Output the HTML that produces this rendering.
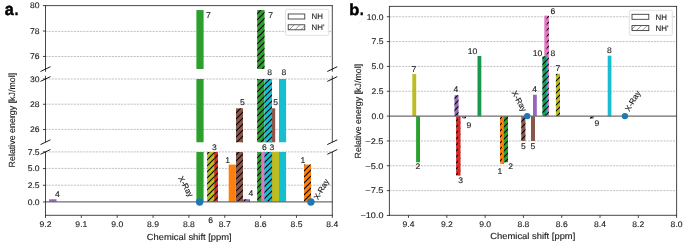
<!DOCTYPE html>
<html><head><meta charset="utf-8"><style>
html,body{margin:0;padding:0;background:#fff;overflow:hidden;}
svg{display:block;will-change:transform;}
text{font-family:"Liberation Sans",sans-serif;text-rendering:geometricPrecision;}
</style></head><body>
<svg width="685" height="242" viewBox="0 0 685 242">
<defs>
<pattern id="hatch" patternUnits="userSpaceOnUse" x="1" y="0" width="6" height="6">
<path d="M-1,1 L1,-1 M0,6 L6,0 M5,7 L7,5" stroke="#000" stroke-width="1.02"/>
</pattern>
<pattern id="hatchL" patternUnits="userSpaceOnUse" width="5.8" height="5.8">
<path d="M-1,1 L1,-1 M0,5.8 L5.8,0 M4.8,6.8 L6.8,4.8" stroke="#555" stroke-width="0.65"/>
</pattern>

<clipPath id="ca_top"><rect x="45.5" y="5.6" width="286.8" height="63.300000000000004"/></clipPath>
<clipPath id="ca_mid"><rect x="45.5" y="79.0" width="286.8" height="63.19999999999999"/></clipPath>
<clipPath id="ca_bot"><rect x="45.5" y="151.9" width="286.8" height="63.400000000000006"/></clipPath>
<clipPath id="cb"><rect x="389.4" y="6.4" width="287.20000000000005" height="208.9"/></clipPath>
</defs>
<rect width="685" height="242" fill="#fff"/>
<line x1="45.50" y1="31.40" x2="332.30" y2="31.40" stroke="#acacac" stroke-width="0.75" stroke-dasharray="2.1,1.05"/>
<line x1="45.50" y1="56.50" x2="332.30" y2="56.50" stroke="#acacac" stroke-width="0.75" stroke-dasharray="2.1,1.05"/>
<line x1="45.50" y1="79.00" x2="332.30" y2="79.00" stroke="#acacac" stroke-width="0.75" stroke-dasharray="2.1,1.05"/>
<line x1="45.50" y1="104.20" x2="332.30" y2="104.20" stroke="#acacac" stroke-width="0.75" stroke-dasharray="2.1,1.05"/>
<line x1="45.50" y1="129.40" x2="332.30" y2="129.40" stroke="#acacac" stroke-width="0.75" stroke-dasharray="2.1,1.05"/>
<line x1="45.50" y1="151.90" x2="332.30" y2="151.90" stroke="#acacac" stroke-width="0.75" stroke-dasharray="2.1,1.05"/>
<line x1="45.50" y1="168.40" x2="332.30" y2="168.40" stroke="#acacac" stroke-width="0.75" stroke-dasharray="2.1,1.05"/>
<line x1="45.50" y1="185.20" x2="332.30" y2="185.20" stroke="#acacac" stroke-width="0.75" stroke-dasharray="2.1,1.05"/>
<rect x="196.40" y="10.05" width="7.20" height="59.85" fill="#2ca02c" clip-path="url(#ca_top)"/>
<rect x="257.20" y="10.05" width="7.30" height="59.85" fill="#2ca02c" clip-path="url(#ca_top)"/>
<rect x="257.20" y="10.05" width="7.30" height="59.85" fill="url(#hatch)" clip-path="url(#ca_top)"/>
<rect x="196.40" y="78.00" width="7.20" height="65.20" fill="#2ca02c" clip-path="url(#ca_mid)"/>
<rect x="236.00" y="108.32" width="7.00" height="34.88" fill="#8c564b" clip-path="url(#ca_mid)"/>
<rect x="236.00" y="108.32" width="7.00" height="34.88" fill="url(#hatch)" clip-path="url(#ca_mid)"/>
<rect x="257.20" y="78.00" width="7.30" height="65.20" fill="#2ca02c" clip-path="url(#ca_mid)"/>
<rect x="257.20" y="78.00" width="7.30" height="65.20" fill="url(#hatch)" clip-path="url(#ca_mid)"/>
<rect x="268.00" y="108.32" width="7.20" height="34.88" fill="#8c564b" clip-path="url(#ca_mid)"/>
<rect x="264.50" y="78.00" width="7.50" height="65.20" fill="#17becf" clip-path="url(#ca_mid)"/>
<rect x="264.50" y="78.00" width="7.50" height="65.20" fill="url(#hatch)" clip-path="url(#ca_mid)"/>
<rect x="279.00" y="78.00" width="7.10" height="65.20" fill="#17becf" clip-path="url(#ca_mid)"/>
<rect x="49.10" y="199.28" width="7.40" height="2.67" fill="#9467bd" clip-path="url(#ca_bot)"/>
<rect x="196.40" y="150.90" width="7.20" height="51.05" fill="#2ca02c" clip-path="url(#ca_bot)"/>
<rect x="210.70" y="150.90" width="7.20" height="51.05" fill="#d62728" clip-path="url(#ca_bot)"/>
<rect x="210.70" y="150.90" width="7.20" height="51.05" fill="url(#hatch)" clip-path="url(#ca_bot)"/>
<rect x="207.10" y="150.90" width="7.20" height="51.05" fill="#bcbd22" clip-path="url(#ca_bot)"/>
<rect x="207.10" y="150.90" width="7.20" height="51.05" fill="url(#hatch)" clip-path="url(#ca_bot)"/>
<rect x="228.70" y="164.58" width="7.20" height="37.37" fill="#ff7f0e" clip-path="url(#ca_bot)"/>
<rect x="236.00" y="150.90" width="7.00" height="51.05" fill="#8c564b" clip-path="url(#ca_bot)"/>
<rect x="236.00" y="150.90" width="7.00" height="51.05" fill="url(#hatch)" clip-path="url(#ca_bot)"/>
<rect x="243.20" y="199.28" width="6.80" height="2.67" fill="#9467bd" clip-path="url(#ca_bot)"/>
<rect x="243.20" y="199.28" width="6.80" height="2.67" fill="url(#hatch)" clip-path="url(#ca_bot)"/>
<rect x="257.20" y="150.90" width="7.30" height="51.05" fill="#2ca02c" clip-path="url(#ca_bot)"/>
<rect x="257.20" y="150.90" width="7.30" height="51.05" fill="url(#hatch)" clip-path="url(#ca_bot)"/>
<rect x="261.20" y="150.90" width="7.20" height="51.05" fill="#e377c2" clip-path="url(#ca_bot)"/>
<rect x="268.00" y="150.90" width="7.20" height="51.05" fill="#8c564b" clip-path="url(#ca_bot)"/>
<rect x="264.50" y="150.90" width="7.50" height="51.05" fill="#17becf" clip-path="url(#ca_bot)"/>
<rect x="264.50" y="150.90" width="7.50" height="51.05" fill="url(#hatch)" clip-path="url(#ca_bot)"/>
<rect x="272.10" y="150.90" width="6.90" height="51.05" fill="#bcbd22" clip-path="url(#ca_bot)"/>
<rect x="279.00" y="150.90" width="7.10" height="51.05" fill="#17becf" clip-path="url(#ca_bot)"/>
<rect x="304.00" y="164.58" width="7.00" height="37.37" fill="#ff7f0e" clip-path="url(#ca_bot)"/>
<rect x="304.00" y="164.58" width="7.00" height="37.37" fill="url(#hatch)" clip-path="url(#ca_bot)"/>
<line x1="45.50" y1="201.95" x2="332.30" y2="201.95" stroke="#6e6e6e" stroke-width="1.25" />
<line x1="45.50" y1="5.20" x2="45.50" y2="71.80" stroke="#262626" stroke-width="0.85" />
<line x1="332.30" y1="5.20" x2="332.30" y2="71.80" stroke="#262626" stroke-width="0.85" />
<line x1="45.50" y1="75.70" x2="45.50" y2="142.20" stroke="#262626" stroke-width="0.85" />
<line x1="332.30" y1="75.70" x2="332.30" y2="142.20" stroke="#262626" stroke-width="0.85" />
<line x1="45.50" y1="151.90" x2="45.50" y2="215.70" stroke="#262626" stroke-width="0.85" />
<line x1="332.30" y1="151.90" x2="332.30" y2="215.70" stroke="#262626" stroke-width="0.85" />
<line x1="45.10" y1="5.60" x2="332.70" y2="5.60" stroke="#262626" stroke-width="0.85" />
<line x1="45.10" y1="215.30" x2="332.70" y2="215.30" stroke="#262626" stroke-width="0.85" />
<line x1="40.50" y1="71.50" x2="50.50" y2="66.70" stroke="#000" stroke-width="0.9" />
<line x1="327.30" y1="71.50" x2="337.30" y2="66.70" stroke="#000" stroke-width="0.9" />
<line x1="40.50" y1="81.40" x2="50.50" y2="76.60" stroke="#000" stroke-width="0.9" />
<line x1="327.30" y1="81.40" x2="337.30" y2="76.60" stroke="#000" stroke-width="0.9" />
<line x1="40.50" y1="144.60" x2="50.50" y2="139.80" stroke="#000" stroke-width="0.9" />
<line x1="327.30" y1="144.60" x2="337.30" y2="139.80" stroke="#000" stroke-width="0.9" />
<line x1="40.50" y1="154.30" x2="50.50" y2="149.50" stroke="#000" stroke-width="0.9" />
<line x1="327.30" y1="154.30" x2="337.30" y2="149.50" stroke="#000" stroke-width="0.9" />
<line x1="42.90" y1="56.44" x2="45.50" y2="56.44" stroke="#262626" stroke-width="0.85" />
<text x="39.60" y="59.19" font-size="8.2" text-anchor="end" fill="#1a1a1a" stroke="#1a1a1a" stroke-width="0.12" textLength="9.54" lengthAdjust="spacingAndGlyphs" >76</text>
<line x1="42.90" y1="31.02" x2="45.50" y2="31.02" stroke="#262626" stroke-width="0.85" />
<text x="39.60" y="33.77" font-size="8.2" text-anchor="end" fill="#1a1a1a" stroke="#1a1a1a" stroke-width="0.12" textLength="9.54" lengthAdjust="spacingAndGlyphs" >78</text>
<line x1="42.90" y1="5.60" x2="45.50" y2="5.60" stroke="#262626" stroke-width="0.85" />
<text x="39.60" y="8.35" font-size="8.2" text-anchor="end" fill="#1a1a1a" stroke="#1a1a1a" stroke-width="0.12" textLength="9.54" lengthAdjust="spacingAndGlyphs" >80</text>
<line x1="42.90" y1="129.56" x2="45.50" y2="129.56" stroke="#262626" stroke-width="0.85" />
<text x="39.60" y="132.31" font-size="8.2" text-anchor="end" fill="#1a1a1a" stroke="#1a1a1a" stroke-width="0.12" textLength="9.54" lengthAdjust="spacingAndGlyphs" >26</text>
<line x1="42.90" y1="104.28" x2="45.50" y2="104.28" stroke="#262626" stroke-width="0.85" />
<text x="39.60" y="107.03" font-size="8.2" text-anchor="end" fill="#1a1a1a" stroke="#1a1a1a" stroke-width="0.12" textLength="9.54" lengthAdjust="spacingAndGlyphs" >28</text>
<line x1="42.90" y1="79.00" x2="45.50" y2="79.00" stroke="#262626" stroke-width="0.85" />
<text x="39.60" y="81.75" font-size="8.2" text-anchor="end" fill="#1a1a1a" stroke="#1a1a1a" stroke-width="0.12" textLength="9.54" lengthAdjust="spacingAndGlyphs" >30</text>
<line x1="42.90" y1="201.95" x2="45.50" y2="201.95" stroke="#262626" stroke-width="0.85" />
<text x="39.60" y="204.70" font-size="8.2" text-anchor="end" fill="#1a1a1a" stroke="#1a1a1a" stroke-width="0.12" textLength="11.93" lengthAdjust="spacingAndGlyphs" >0.0</text>
<line x1="42.90" y1="185.27" x2="45.50" y2="185.27" stroke="#262626" stroke-width="0.85" />
<text x="39.60" y="188.02" font-size="8.2" text-anchor="end" fill="#1a1a1a" stroke="#1a1a1a" stroke-width="0.12" textLength="11.93" lengthAdjust="spacingAndGlyphs" >2.5</text>
<line x1="42.90" y1="168.58" x2="45.50" y2="168.58" stroke="#262626" stroke-width="0.85" />
<text x="39.60" y="171.33" font-size="8.2" text-anchor="end" fill="#1a1a1a" stroke="#1a1a1a" stroke-width="0.12" textLength="11.93" lengthAdjust="spacingAndGlyphs" >5.0</text>
<line x1="42.90" y1="151.90" x2="45.50" y2="151.90" stroke="#262626" stroke-width="0.85" />
<text x="39.60" y="154.65" font-size="8.2" text-anchor="end" fill="#1a1a1a" stroke="#1a1a1a" stroke-width="0.12" textLength="11.93" lengthAdjust="spacingAndGlyphs" >7.5</text>
<line x1="45.50" y1="215.30" x2="45.50" y2="217.90" stroke="#262626" stroke-width="0.85" />
<text x="45.50" y="226.70" font-size="8.2" text-anchor="middle" fill="#1a1a1a" stroke="#1a1a1a" stroke-width="0.12" textLength="11.93" lengthAdjust="spacingAndGlyphs" >9.2</text>
<line x1="81.35" y1="215.30" x2="81.35" y2="217.90" stroke="#262626" stroke-width="0.85" />
<text x="81.35" y="226.70" font-size="8.2" text-anchor="middle" fill="#1a1a1a" stroke="#1a1a1a" stroke-width="0.12" textLength="11.93" lengthAdjust="spacingAndGlyphs" >9.1</text>
<line x1="117.20" y1="215.30" x2="117.20" y2="217.90" stroke="#262626" stroke-width="0.85" />
<text x="117.20" y="226.70" font-size="8.2" text-anchor="middle" fill="#1a1a1a" stroke="#1a1a1a" stroke-width="0.12" textLength="11.93" lengthAdjust="spacingAndGlyphs" >9.0</text>
<line x1="153.05" y1="215.30" x2="153.05" y2="217.90" stroke="#262626" stroke-width="0.85" />
<text x="153.05" y="226.70" font-size="8.2" text-anchor="middle" fill="#1a1a1a" stroke="#1a1a1a" stroke-width="0.12" textLength="11.93" lengthAdjust="spacingAndGlyphs" >8.9</text>
<line x1="188.90" y1="215.30" x2="188.90" y2="217.90" stroke="#262626" stroke-width="0.85" />
<text x="188.90" y="226.70" font-size="8.2" text-anchor="middle" fill="#1a1a1a" stroke="#1a1a1a" stroke-width="0.12" textLength="11.93" lengthAdjust="spacingAndGlyphs" >8.8</text>
<line x1="224.75" y1="215.30" x2="224.75" y2="217.90" stroke="#262626" stroke-width="0.85" />
<text x="224.75" y="226.70" font-size="8.2" text-anchor="middle" fill="#1a1a1a" stroke="#1a1a1a" stroke-width="0.12" textLength="11.93" lengthAdjust="spacingAndGlyphs" >8.7</text>
<line x1="260.60" y1="215.30" x2="260.60" y2="217.90" stroke="#262626" stroke-width="0.85" />
<text x="260.60" y="226.70" font-size="8.2" text-anchor="middle" fill="#1a1a1a" stroke="#1a1a1a" stroke-width="0.12" textLength="11.93" lengthAdjust="spacingAndGlyphs" >8.6</text>
<line x1="296.45" y1="215.30" x2="296.45" y2="217.90" stroke="#262626" stroke-width="0.85" />
<text x="296.45" y="226.70" font-size="8.2" text-anchor="middle" fill="#1a1a1a" stroke="#1a1a1a" stroke-width="0.12" textLength="11.93" lengthAdjust="spacingAndGlyphs" >8.5</text>
<line x1="332.30" y1="215.30" x2="332.30" y2="217.90" stroke="#262626" stroke-width="0.85" />
<text x="332.30" y="226.70" font-size="8.2" text-anchor="middle" fill="#1a1a1a" stroke="#1a1a1a" stroke-width="0.12" textLength="11.93" lengthAdjust="spacingAndGlyphs" >8.4</text>
<text x="189.20" y="239.60" font-size="8.9" text-anchor="middle" fill="#1a1a1a" stroke="#1a1a1a" stroke-width="0.12" textLength="85.00" lengthAdjust="spacingAndGlyphs" >Chemical shift [ppm]</text>
<g transform="translate(14.8,120.1) rotate(-90)">
<text x="0.00" y="0.00" font-size="8.9" text-anchor="middle" fill="#1a1a1a" stroke="#1a1a1a" stroke-width="0.12" textLength="94.60" lengthAdjust="spacingAndGlyphs" >Relative energy [kJ/mol]</text>
</g>
<text x="57.30" y="196.80" font-size="8.2" text-anchor="middle" fill="#1a1a1a" stroke="#1a1a1a" stroke-width="0.12" textLength="4.77" lengthAdjust="spacingAndGlyphs" >4</text>
<text x="208.50" y="17.50" font-size="8.2" text-anchor="middle" fill="#1a1a1a" stroke="#1a1a1a" stroke-width="0.12" textLength="4.77" lengthAdjust="spacingAndGlyphs" >7</text>
<text x="270.60" y="17.60" font-size="8.2" text-anchor="middle" fill="#1a1a1a" stroke="#1a1a1a" stroke-width="0.12" textLength="4.77" lengthAdjust="spacingAndGlyphs" >7</text>
<text x="214.30" y="149.60" font-size="8.2" text-anchor="middle" fill="#1a1a1a" stroke="#1a1a1a" stroke-width="0.12" textLength="4.77" lengthAdjust="spacingAndGlyphs" >3</text>
<text x="227.70" y="162.60" font-size="8.2" text-anchor="middle" fill="#1a1a1a" stroke="#1a1a1a" stroke-width="0.12" textLength="4.77" lengthAdjust="spacingAndGlyphs" >1</text>
<text x="242.50" y="105.10" font-size="8.2" text-anchor="middle" fill="#1a1a1a" stroke="#1a1a1a" stroke-width="0.12" textLength="4.77" lengthAdjust="spacingAndGlyphs" >5</text>
<text x="269.60" y="74.90" font-size="8.2" text-anchor="middle" fill="#1a1a1a" stroke="#1a1a1a" stroke-width="0.12" textLength="4.77" lengthAdjust="spacingAndGlyphs" >8</text>
<text x="283.80" y="74.90" font-size="8.2" text-anchor="middle" fill="#1a1a1a" stroke="#1a1a1a" stroke-width="0.12" textLength="4.77" lengthAdjust="spacingAndGlyphs" >8</text>
<text x="275.60" y="104.90" font-size="8.2" text-anchor="middle" fill="#1a1a1a" stroke="#1a1a1a" stroke-width="0.12" textLength="4.77" lengthAdjust="spacingAndGlyphs" >5</text>
<text x="264.50" y="149.60" font-size="8.2" text-anchor="middle" fill="#1a1a1a" stroke="#1a1a1a" stroke-width="0.12" textLength="4.77" lengthAdjust="spacingAndGlyphs" >6</text>
<text x="271.80" y="149.60" font-size="8.2" text-anchor="middle" fill="#1a1a1a" stroke="#1a1a1a" stroke-width="0.12" textLength="4.77" lengthAdjust="spacingAndGlyphs" >3</text>
<text x="251.00" y="196.30" font-size="8.2" text-anchor="middle" fill="#1a1a1a" stroke="#1a1a1a" stroke-width="0.12" textLength="4.77" lengthAdjust="spacingAndGlyphs" >4</text>
<text x="303.00" y="162.60" font-size="8.2" text-anchor="middle" fill="#1a1a1a" stroke="#1a1a1a" stroke-width="0.12" textLength="4.77" lengthAdjust="spacingAndGlyphs" >1</text>
<text x="210.60" y="223.10" font-size="8.2" text-anchor="middle" fill="#1a1a1a" stroke="#1a1a1a" stroke-width="0.12" textLength="4.77" lengthAdjust="spacingAndGlyphs" >6</text>
<circle cx="199.6" cy="201.95" r="3.7" fill="#1f77b4"/>
<circle cx="310.9" cy="201.95" r="3.7" fill="#1f77b4"/>
<g transform="translate(178.1,178.0) rotate(61)">
<text x="0.00" y="0.00" font-size="7.9" text-anchor="start" fill="#1a1a1a" stroke="#1a1a1a" stroke-width="0.12" textLength="22.41" lengthAdjust="spacingAndGlyphs" >X-Ray</text>
</g>
<g transform="translate(317.9,200.3) rotate(-59)">
<text x="0.00" y="0.00" font-size="7.9" text-anchor="start" fill="#1a1a1a" stroke="#1a1a1a" stroke-width="0.12" textLength="22.41" lengthAdjust="spacingAndGlyphs" >X-Ray</text>
</g>
<rect x="285.5" y="9.3" width="43.30000000000001" height="26.099999999999998" rx="1.6" fill="#fff" fill-opacity="0.85" stroke="#d4d4d4" stroke-width="0.7"/>
<rect x="288.2" y="14.0" width="16.600000000000023" height="5.0" fill="#fff" stroke="#333" stroke-width="0.85"/>
<rect x="288.2" y="24.8" width="16.600000000000023" height="5.0" fill="#fff"/>
<rect x="288.2" y="24.8" width="16.600000000000023" height="5.0" fill="url(#hatchL)"/>
<rect x="288.2" y="24.8" width="16.600000000000023" height="5.0" fill="none" stroke="#333" stroke-width="0.85"/>
<text x="311.60" y="19.40" font-size="8.0" text-anchor="start" fill="#1a1a1a" stroke="#1a1a1a" stroke-width="0.12" textLength="11.40" lengthAdjust="spacingAndGlyphs" >NH</text>
<text x="311.60" y="30.20" font-size="8.0" text-anchor="start" fill="#1a1a1a" stroke="#1a1a1a" stroke-width="0.12" textLength="12.90" lengthAdjust="spacingAndGlyphs" >NH&#39;</text>
<text x="4.70" y="14.80" font-size="17.0" text-anchor="start" fill="#000" stroke="#000" stroke-width="0.5" textLength="9.00" lengthAdjust="spacingAndGlyphs" font-weight="bold" >a</text>
<text x="14.40" y="14.80" font-size="17.0" text-anchor="start" fill="#000" stroke="#000" stroke-width="0.3" textLength="4.00" lengthAdjust="spacingAndGlyphs" font-weight="bold" >.</text>
<line x1="389.40" y1="190.61" x2="676.60" y2="190.61" stroke="#acacac" stroke-width="0.75" stroke-dasharray="2.1,1.05"/>
<line x1="389.40" y1="165.78" x2="676.60" y2="165.78" stroke="#acacac" stroke-width="0.75" stroke-dasharray="2.1,1.05"/>
<line x1="389.40" y1="140.94" x2="676.60" y2="140.94" stroke="#acacac" stroke-width="0.75" stroke-dasharray="2.1,1.05"/>
<line x1="389.40" y1="91.26" x2="676.60" y2="91.26" stroke="#acacac" stroke-width="0.75" stroke-dasharray="2.1,1.05"/>
<line x1="389.40" y1="66.42" x2="676.60" y2="66.42" stroke="#acacac" stroke-width="0.75" stroke-dasharray="2.1,1.05"/>
<line x1="389.40" y1="41.59" x2="676.60" y2="41.59" stroke="#acacac" stroke-width="0.75" stroke-dasharray="2.1,1.05"/>
<line x1="389.40" y1="16.75" x2="676.60" y2="16.75" stroke="#acacac" stroke-width="0.75" stroke-dasharray="2.1,1.05"/>
<rect x="412.30" y="73.98" width="3.90" height="42.12" fill="#bcbd22" clip-path="url(#cb)"/>
<rect x="416.10" y="116.10" width="3.90" height="46.20" fill="#2ca02c" clip-path="url(#cb)"/>
<rect x="454.50" y="95.24" width="4.00" height="20.86" fill="#9467bd" clip-path="url(#cb)"/>
<rect x="454.50" y="95.24" width="4.00" height="20.86" fill="url(#hatch)" clip-path="url(#cb)"/>
<rect x="456.10" y="116.10" width="4.20" height="59.31" fill="#d62728" clip-path="url(#cb)"/>
<rect x="456.10" y="116.10" width="4.20" height="59.31" fill="url(#hatch)" clip-path="url(#cb)"/>
<rect x="457.90" y="116.10" width="2.40" height="59.31" fill="#d62728" clip-path="url(#cb)"/>
<rect x="462.00" y="116.10" width="4.00" height="2.19" fill="#7f7f7f" clip-path="url(#cb)"/>
<rect x="462.00" y="116.10" width="4.00" height="2.19" fill="url(#hatch)" clip-path="url(#cb)"/>
<rect x="477.50" y="55.99" width="3.80" height="60.11" fill="#1a9850" clip-path="url(#cb)"/>
<rect x="500.00" y="116.10" width="3.90" height="47.69" fill="#ff7f0e" clip-path="url(#cb)"/>
<rect x="500.00" y="116.10" width="3.90" height="47.69" fill="url(#hatch)" clip-path="url(#cb)"/>
<rect x="502.00" y="116.10" width="1.90" height="47.69" fill="#ff7f0e" clip-path="url(#cb)"/>
<rect x="503.90" y="116.10" width="4.10" height="46.20" fill="#2ca02c" clip-path="url(#cb)"/>
<rect x="503.90" y="116.10" width="4.10" height="46.20" fill="url(#hatch)" clip-path="url(#cb)"/>
<rect x="521.30" y="116.10" width="4.10" height="24.84" fill="#8c564b" clip-path="url(#cb)"/>
<rect x="521.30" y="116.10" width="4.10" height="24.84" fill="url(#hatch)" clip-path="url(#cb)"/>
<rect x="531.00" y="116.10" width="4.00" height="24.84" fill="#8c564b" clip-path="url(#cb)"/>
<rect x="533.00" y="94.74" width="3.80" height="21.36" fill="#9467bd" clip-path="url(#cb)"/>
<rect x="545.00" y="15.76" width="3.90" height="100.34" fill="#e377c2" clip-path="url(#cb)"/>
<rect x="545.00" y="15.76" width="3.90" height="100.34" fill="url(#hatch)" clip-path="url(#cb)"/>
<rect x="544.30" y="15.76" width="2.30" height="100.34" fill="#e377c2" clip-path="url(#cb)"/>
<rect x="544.20" y="56.49" width="3.80" height="59.61" fill="#17becf" clip-path="url(#cb)"/>
<rect x="544.20" y="56.49" width="3.80" height="59.61" fill="url(#hatch)" clip-path="url(#cb)"/>
<rect x="542.40" y="56.49" width="3.90" height="59.61" fill="#1a9850" clip-path="url(#cb)"/>
<rect x="542.40" y="56.49" width="3.90" height="59.61" fill="url(#hatch)" clip-path="url(#cb)"/>
<rect x="555.90" y="73.88" width="4.10" height="42.22" fill="#bcbd22" clip-path="url(#cb)"/>
<rect x="555.90" y="73.88" width="4.10" height="42.22" fill="url(#hatch)" clip-path="url(#cb)"/>
<rect x="590.00" y="116.10" width="3.80" height="2.48" fill="#7f7f7f" clip-path="url(#cb)"/>
<rect x="590.00" y="116.10" width="3.80" height="2.48" fill="url(#hatch)" clip-path="url(#cb)"/>
<rect x="607.70" y="55.70" width="3.70" height="60.40" fill="#17becf" clip-path="url(#cb)"/>
<line x1="389.40" y1="116.10" x2="676.60" y2="116.10" stroke="#6e6e6e" stroke-width="1.25" />
<line x1="389.40" y1="6.00" x2="389.40" y2="215.70" stroke="#262626" stroke-width="0.85" />
<line x1="676.60" y1="6.00" x2="676.60" y2="215.70" stroke="#262626" stroke-width="0.85" />
<line x1="389.00" y1="6.40" x2="677.00" y2="6.40" stroke="#262626" stroke-width="0.85" />
<line x1="389.00" y1="215.30" x2="677.00" y2="215.30" stroke="#262626" stroke-width="0.85" />
<line x1="386.80" y1="215.45" x2="389.40" y2="215.45" stroke="#262626" stroke-width="0.85" />
<text x="383.50" y="218.20" font-size="8.2" text-anchor="end" fill="#1a1a1a" stroke="#1a1a1a" stroke-width="0.12" textLength="22.98" lengthAdjust="spacingAndGlyphs" >−10.0</text>
<line x1="386.80" y1="190.61" x2="389.40" y2="190.61" stroke="#262626" stroke-width="0.85" />
<text x="383.50" y="193.36" font-size="8.2" text-anchor="end" fill="#1a1a1a" stroke="#1a1a1a" stroke-width="0.12" textLength="18.21" lengthAdjust="spacingAndGlyphs" >−7.5</text>
<line x1="386.80" y1="165.78" x2="389.40" y2="165.78" stroke="#262626" stroke-width="0.85" />
<text x="383.50" y="168.53" font-size="8.2" text-anchor="end" fill="#1a1a1a" stroke="#1a1a1a" stroke-width="0.12" textLength="18.21" lengthAdjust="spacingAndGlyphs" >−5.0</text>
<line x1="386.80" y1="140.94" x2="389.40" y2="140.94" stroke="#262626" stroke-width="0.85" />
<text x="383.50" y="143.69" font-size="8.2" text-anchor="end" fill="#1a1a1a" stroke="#1a1a1a" stroke-width="0.12" textLength="18.21" lengthAdjust="spacingAndGlyphs" >−2.5</text>
<line x1="386.80" y1="116.10" x2="389.40" y2="116.10" stroke="#262626" stroke-width="0.85" />
<text x="383.50" y="118.85" font-size="8.2" text-anchor="end" fill="#1a1a1a" stroke="#1a1a1a" stroke-width="0.12" textLength="11.93" lengthAdjust="spacingAndGlyphs" >0.0</text>
<line x1="386.80" y1="91.26" x2="389.40" y2="91.26" stroke="#262626" stroke-width="0.85" />
<text x="383.50" y="94.01" font-size="8.2" text-anchor="end" fill="#1a1a1a" stroke="#1a1a1a" stroke-width="0.12" textLength="11.93" lengthAdjust="spacingAndGlyphs" >2.5</text>
<line x1="386.80" y1="66.42" x2="389.40" y2="66.42" stroke="#262626" stroke-width="0.85" />
<text x="383.50" y="69.17" font-size="8.2" text-anchor="end" fill="#1a1a1a" stroke="#1a1a1a" stroke-width="0.12" textLength="11.93" lengthAdjust="spacingAndGlyphs" >5.0</text>
<line x1="386.80" y1="41.59" x2="389.40" y2="41.59" stroke="#262626" stroke-width="0.85" />
<text x="383.50" y="44.34" font-size="8.2" text-anchor="end" fill="#1a1a1a" stroke="#1a1a1a" stroke-width="0.12" textLength="11.93" lengthAdjust="spacingAndGlyphs" >7.5</text>
<line x1="386.80" y1="16.75" x2="389.40" y2="16.75" stroke="#262626" stroke-width="0.85" />
<text x="383.50" y="19.50" font-size="8.2" text-anchor="end" fill="#1a1a1a" stroke="#1a1a1a" stroke-width="0.12" textLength="16.70" lengthAdjust="spacingAndGlyphs" >10.0</text>
<line x1="408.55" y1="215.30" x2="408.55" y2="217.90" stroke="#262626" stroke-width="0.85" />
<text x="408.55" y="226.90" font-size="8.2" text-anchor="middle" fill="#1a1a1a" stroke="#1a1a1a" stroke-width="0.12" textLength="11.93" lengthAdjust="spacingAndGlyphs" >9.4</text>
<line x1="446.84" y1="215.30" x2="446.84" y2="217.90" stroke="#262626" stroke-width="0.85" />
<text x="446.84" y="226.90" font-size="8.2" text-anchor="middle" fill="#1a1a1a" stroke="#1a1a1a" stroke-width="0.12" textLength="11.93" lengthAdjust="spacingAndGlyphs" >9.2</text>
<line x1="485.13" y1="215.30" x2="485.13" y2="217.90" stroke="#262626" stroke-width="0.85" />
<text x="485.13" y="226.90" font-size="8.2" text-anchor="middle" fill="#1a1a1a" stroke="#1a1a1a" stroke-width="0.12" textLength="11.93" lengthAdjust="spacingAndGlyphs" >9.0</text>
<line x1="523.43" y1="215.30" x2="523.43" y2="217.90" stroke="#262626" stroke-width="0.85" />
<text x="523.43" y="226.90" font-size="8.2" text-anchor="middle" fill="#1a1a1a" stroke="#1a1a1a" stroke-width="0.12" textLength="11.93" lengthAdjust="spacingAndGlyphs" >8.8</text>
<line x1="561.72" y1="215.30" x2="561.72" y2="217.90" stroke="#262626" stroke-width="0.85" />
<text x="561.72" y="226.90" font-size="8.2" text-anchor="middle" fill="#1a1a1a" stroke="#1a1a1a" stroke-width="0.12" textLength="11.93" lengthAdjust="spacingAndGlyphs" >8.6</text>
<line x1="600.01" y1="215.30" x2="600.01" y2="217.90" stroke="#262626" stroke-width="0.85" />
<text x="600.01" y="226.90" font-size="8.2" text-anchor="middle" fill="#1a1a1a" stroke="#1a1a1a" stroke-width="0.12" textLength="11.93" lengthAdjust="spacingAndGlyphs" >8.4</text>
<line x1="638.31" y1="215.30" x2="638.31" y2="217.90" stroke="#262626" stroke-width="0.85" />
<text x="638.31" y="226.90" font-size="8.2" text-anchor="middle" fill="#1a1a1a" stroke="#1a1a1a" stroke-width="0.12" textLength="11.93" lengthAdjust="spacingAndGlyphs" >8.2</text>
<line x1="676.60" y1="215.30" x2="676.60" y2="217.90" stroke="#262626" stroke-width="0.85" />
<text x="676.60" y="226.90" font-size="8.2" text-anchor="middle" fill="#1a1a1a" stroke="#1a1a1a" stroke-width="0.12" textLength="11.93" lengthAdjust="spacingAndGlyphs" >8.0</text>
<text x="532.80" y="238.60" font-size="8.9" text-anchor="middle" fill="#1a1a1a" stroke="#1a1a1a" stroke-width="0.12" textLength="85.00" lengthAdjust="spacingAndGlyphs" >Chemical shift [ppm]</text>
<g transform="translate(360.7,111.1) rotate(-90)">
<text x="0.00" y="0.00" font-size="8.9" text-anchor="middle" fill="#1a1a1a" stroke="#1a1a1a" stroke-width="0.12" textLength="94.60" lengthAdjust="spacingAndGlyphs" >Relative energy [kJ/mol]</text>
</g>
<text x="414.00" y="71.90" font-size="8.2" text-anchor="middle" fill="#1a1a1a" stroke="#1a1a1a" stroke-width="0.12" textLength="4.77" lengthAdjust="spacingAndGlyphs" >7</text>
<text x="418.00" y="169.30" font-size="8.2" text-anchor="middle" fill="#1a1a1a" stroke="#1a1a1a" stroke-width="0.12" textLength="4.77" lengthAdjust="spacingAndGlyphs" >2</text>
<text x="456.00" y="92.30" font-size="8.2" text-anchor="middle" fill="#1a1a1a" stroke="#1a1a1a" stroke-width="0.12" textLength="4.77" lengthAdjust="spacingAndGlyphs" >4</text>
<text x="460.70" y="182.50" font-size="8.2" text-anchor="middle" fill="#1a1a1a" stroke="#1a1a1a" stroke-width="0.12" textLength="4.77" lengthAdjust="spacingAndGlyphs" >3</text>
<text x="468.80" y="127.60" font-size="8.2" text-anchor="middle" fill="#1a1a1a" stroke="#1a1a1a" stroke-width="0.12" textLength="4.77" lengthAdjust="spacingAndGlyphs" >9</text>
<text x="472.50" y="53.70" font-size="8.2" text-anchor="middle" fill="#1a1a1a" stroke="#1a1a1a" stroke-width="0.12" textLength="9.54" lengthAdjust="spacingAndGlyphs" >10</text>
<text x="499.90" y="173.80" font-size="8.2" text-anchor="middle" fill="#1a1a1a" stroke="#1a1a1a" stroke-width="0.12" textLength="4.77" lengthAdjust="spacingAndGlyphs" >1</text>
<text x="510.60" y="169.30" font-size="8.2" text-anchor="middle" fill="#1a1a1a" stroke="#1a1a1a" stroke-width="0.12" textLength="4.77" lengthAdjust="spacingAndGlyphs" >2</text>
<text x="523.50" y="148.70" font-size="8.2" text-anchor="middle" fill="#1a1a1a" stroke="#1a1a1a" stroke-width="0.12" textLength="4.77" lengthAdjust="spacingAndGlyphs" >5</text>
<text x="533.00" y="148.70" font-size="8.2" text-anchor="middle" fill="#1a1a1a" stroke="#1a1a1a" stroke-width="0.12" textLength="4.77" lengthAdjust="spacingAndGlyphs" >5</text>
<text x="534.70" y="91.80" font-size="8.2" text-anchor="middle" fill="#1a1a1a" stroke="#1a1a1a" stroke-width="0.12" textLength="4.77" lengthAdjust="spacingAndGlyphs" >4</text>
<text x="552.80" y="14.40" font-size="8.2" text-anchor="middle" fill="#1a1a1a" stroke="#1a1a1a" stroke-width="0.12" textLength="4.77" lengthAdjust="spacingAndGlyphs" >6</text>
<text x="537.50" y="55.50" font-size="8.2" text-anchor="middle" fill="#1a1a1a" stroke="#1a1a1a" stroke-width="0.12" textLength="9.54" lengthAdjust="spacingAndGlyphs" >10</text>
<text x="553.00" y="55.50" font-size="8.2" text-anchor="middle" fill="#1a1a1a" stroke="#1a1a1a" stroke-width="0.12" textLength="4.77" lengthAdjust="spacingAndGlyphs" >8</text>
<text x="557.90" y="71.30" font-size="8.2" text-anchor="middle" fill="#1a1a1a" stroke="#1a1a1a" stroke-width="0.12" textLength="4.77" lengthAdjust="spacingAndGlyphs" >7</text>
<text x="596.80" y="125.50" font-size="8.2" text-anchor="middle" fill="#1a1a1a" stroke="#1a1a1a" stroke-width="0.12" textLength="4.77" lengthAdjust="spacingAndGlyphs" >9</text>
<text x="609.40" y="53.30" font-size="8.2" text-anchor="middle" fill="#1a1a1a" stroke="#1a1a1a" stroke-width="0.12" textLength="4.77" lengthAdjust="spacingAndGlyphs" >8</text>
<circle cx="527.2" cy="116.10" r="3.2" fill="#1f77b4"/>
<circle cx="624.9" cy="116.10" r="3.2" fill="#1f77b4"/>
<g transform="translate(511.4,92.6) rotate(61)">
<text x="0.00" y="0.00" font-size="7.9" text-anchor="start" fill="#1a1a1a" stroke="#1a1a1a" stroke-width="0.12" textLength="22.41" lengthAdjust="spacingAndGlyphs" >X-Ray</text>
</g>
<g transform="translate(629.2,111.9) rotate(-59)">
<text x="0.00" y="0.00" font-size="7.9" text-anchor="start" fill="#1a1a1a" stroke="#1a1a1a" stroke-width="0.12" textLength="22.41" lengthAdjust="spacingAndGlyphs" >X-Ray</text>
</g>
<rect x="629.3" y="10.3" width="43.0" height="25.099999999999998" rx="1.6" fill="#fff" fill-opacity="0.85" stroke="#d4d4d4" stroke-width="0.7"/>
<rect x="632.0" y="14.3" width="16.799999999999955" height="5.0" fill="#fff" stroke="#333" stroke-width="0.85"/>
<rect x="632.0" y="25.6" width="16.799999999999955" height="5.0" fill="#fff"/>
<rect x="632.0" y="25.6" width="16.799999999999955" height="5.0" fill="url(#hatchL)"/>
<rect x="632.0" y="25.6" width="16.799999999999955" height="5.0" fill="none" stroke="#333" stroke-width="0.85"/>
<text x="655.50" y="19.70" font-size="8.0" text-anchor="start" fill="#1a1a1a" stroke="#1a1a1a" stroke-width="0.12" textLength="11.40" lengthAdjust="spacingAndGlyphs" >NH</text>
<text x="655.50" y="31.00" font-size="8.0" text-anchor="start" fill="#1a1a1a" stroke="#1a1a1a" stroke-width="0.12" textLength="12.90" lengthAdjust="spacingAndGlyphs" >NH&#39;</text>
<text x="349.30" y="15.40" font-size="15.8" text-anchor="start" fill="#000" stroke="#000" stroke-width="0.5" textLength="10.00" lengthAdjust="spacingAndGlyphs" font-weight="bold" >b</text>
<text x="359.80" y="15.40" font-size="17.0" text-anchor="start" fill="#000" stroke="#000" stroke-width="0.3" textLength="4.00" lengthAdjust="spacingAndGlyphs" font-weight="bold" >.</text>
<line x1="362.40" y1="17.20" x2="358.80" y2="25.00" stroke="#f0f0f0" stroke-width="0.8" />
</svg></body></html>
